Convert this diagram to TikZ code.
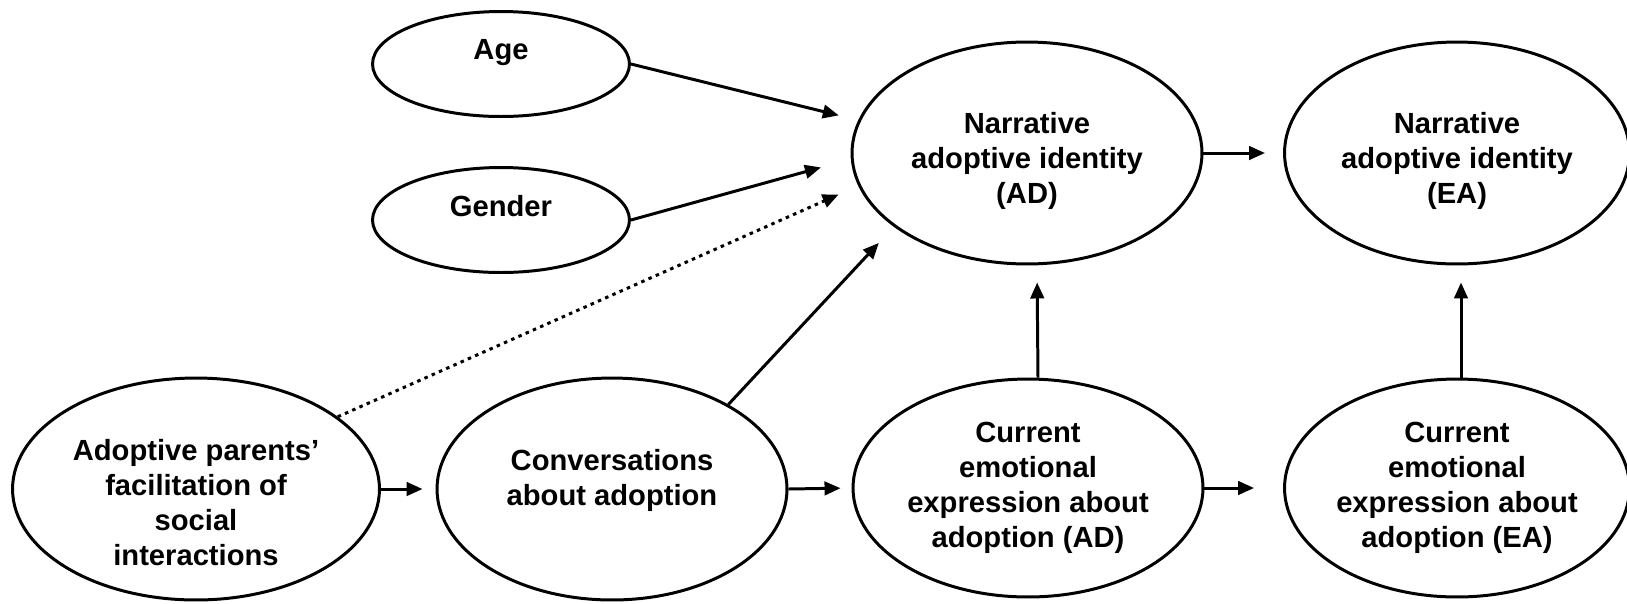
\documentclass[tikz,border=0pt]{standalone}
\usepackage{fontspec}
\setmainfont{Liberation Sans}
\usetikzlibrary{shapes.geometric,arrows.meta}
\tikzset{
	varnode/.style = {ellipse, draw=black, line width=1.7pt, align=center, inner sep=-0.5cm, font=\fontsize{16.6}{20}\selectfont\bfseries},
	small/.style = {varnode, minimum width=5.14cm, minimum height=2.1cm},
	big/.style = {varnode, minimum width=7cm, minimum height=4.44cm},
	link/.style = {line width=1.7pt, -{Triangle[length=0.32cm,width=0.27cm]}},
	weak/.style = {link, dash pattern=on 2pt off 2.5pt}
}

\begin{document}
\begin{tikzpicture}[x=0.02cm, y=-0.02cm]
		\useasboundingbox (0,0) rectangle (1627,603);
		% covariates
		\node [small] (age) at (501,64) {Age\\[-4pt]\mbox{}};
		\node [small] (gen) at (501,220) {Gender\\[-4pt]\mbox{}};
		% narrative identity
		\node [big] (nad) at (1027,153) {\rule{0pt}{21pt}Narrative\\adoptive identity\\(AD)};
		\node [big, minimum width=6.9cm] (nea) at (1457,153) {\rule{0pt}{21pt}Narrative\\adoptive identity\\(EA)};
		% bottom row
		\node [big, minimum width=7.34cm] (ap) at (196,489) {\mbox{}\\[7.4pt]Adoptive parents’\\facilitation of\\social\\interactions};
		\node [big] (conv) at (612,489) {Conversations\\about adoption\\[-6.4pt]\mbox{}};
		\node [big, minimum height=4.36cm] (cad) at (1028,488) {Current\\emotional\\expression about\\adoption (AD)};
		\node [big, minimum width=6.9cm, minimum height=4.36cm] (cea) at (1457,488) {Current\\emotional\\expression about\\adoption (EA)};

		\draw [link, shorten >=0.4cm] (age.east) -- (nad.169);
		\draw [link, shorten >=0.62cm] (gen.east) -- (nad.182);
		\draw [weak, shorten >=0.43cm] (ap.27) -- (nad.191);
		\draw [link, shorten >=0.44cm] (conv.36) -- (nad.209);
		\draw [link, shorten >=0.26cm] (ap.east) -- (conv.west);
		\draw [link, shorten >=0.22cm] (conv.east) -- (cad.west);
		\draw [link, shorten >=0.58cm] (cad.east) -- (cea.west);
		\draw [link, shorten >=0.36cm] (nad.east) -- (nea.west);
		\draw [link, shorten >=0.34cm] ([xshift=0.2cm]cad.north) -- ([xshift=0.2cm]nad.south);
		\draw [link, shorten >=0.34cm] ([xshift=0.08cm]cea.north) -- ([xshift=0.08cm]nea.south);
\end{tikzpicture}
\end{document}
